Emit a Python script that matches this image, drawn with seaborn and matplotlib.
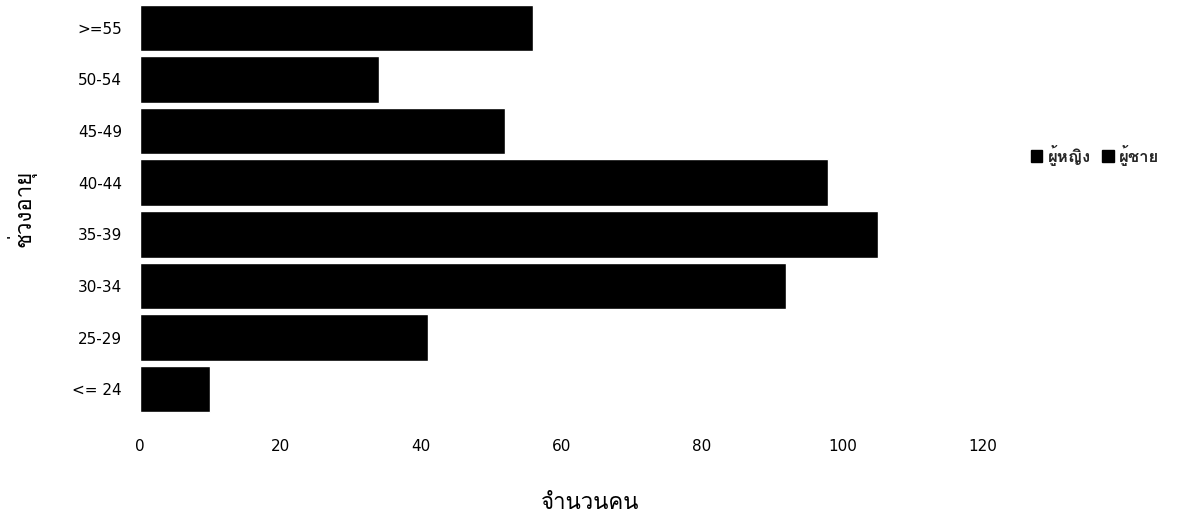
import matplotlib
matplotlib.use("Agg")
import matplotlib.pyplot as plt
from matplotlib import font_manager
from matplotlib.patches import Patch
import seaborn as sns
import pandas as pd

# Age groups (bottom to top on the chart) and head counts
age_groups = ["<= 24", "25-29", "30-34", "35-39", "40-44", "45-49", "50-54", ">=55"]
counts = [10, 41, 92, 105, 98, 52, 34, 56]
series_names = ["ผู้หญิง", "ผู้ชาย"]
x_ticks = [0, 20, 40, 60, 80, 100, 120]


def thai_family():
    """Return the name of an installed family that covers Thai script."""
    try:
        from fontTools.ttLib import TTFont
    except Exception:
        return None
    seen = set()
    for entry in font_manager.fontManager.ttflist:
        if entry.name in seen:
            continue
        seen.add(entry.name)
        try:
            kw = {"fontNumber": 0} if entry.fname.lower().endswith(".ttc") else {}
            font = TTFont(entry.fname, lazy=True, **kw)
            cmap = font.getBestCmap() or {}
            if 0x0E08 in cmap and 0x0E19 in cmap:
                return entry.name
        except Exception:
            continue
    return None


sns.set_theme(style="white")
thai = thai_family()
families = ([thai] if thai else []) + ["DejaVu Sans"]
plt.rcParams["font.family"] = families

df = pd.DataFrame({"age": age_groups[::-1], "count": counts[::-1]})

fig = plt.figure(figsize=(11.84, 5.32), dpi=100)
ax = fig.add_axes([140 / 1184, (532 - 415) / 532, (983 - 140) / 1184, 413 / 532])

sns.barplot(data=df, y="age", x="count", order=age_groups[::-1],
            color="black", saturation=1, width=0.9, ax=ax, orient="h")

ax.set_xlim(0, 120)
ax.set_xticks(x_ticks)
ax.set_xticklabels([str(t) for t in x_ticks])
ax.tick_params(axis="x", length=0, pad=17, labelsize=11, colors="black")
ax.tick_params(axis="y", length=0, pad=13, labelsize=11, colors="black")
for lab in ax.get_xticklabels() + ax.get_yticklabels():
    lab.set_fontfamily("DejaVu Sans")
for s in ax.spines.values():
    s.set_visible(False)

ax.set_ylabel("ช่วงอายุ", fontsize=16, color="black")
ax.yaxis.set_label_coords((36 - 140) / (983 - 140), 0.5)
ax.set_xlabel("จำนวนคน", fontsize=16, color="black")
ax.xaxis.set_label_coords((590 - 140) / (983 - 140), -(493 - 415) / 413)

handles = [Patch(facecolor="black", edgecolor="black", label=n) for n in series_names]
fig.legend(handles=handles, loc="center", bbox_to_anchor=(1095 / 1184, 1 - 155 / 532),
           ncol=2, frameon=False, prop={"size": 12, "weight": "bold"},
           handlelength=0.7, handleheight=0.7, handletextpad=0.3, columnspacing=0.7)

fig.savefig("out.png", dpi=100)
